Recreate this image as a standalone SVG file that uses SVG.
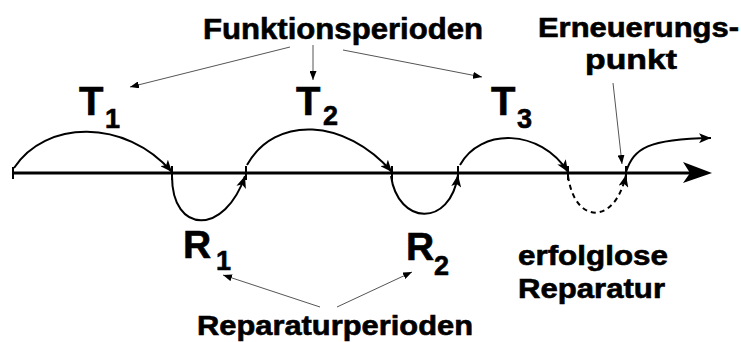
<svg xmlns="http://www.w3.org/2000/svg" width="741" height="342" viewBox="0 0 741 342">
<defs>
<style>
.lbl{font-family:"Liberation Sans",Arial,sans-serif;font-weight:bold;fill:#000;stroke:#000;stroke-width:0.6}
.arc{fill:none;stroke:#000;stroke-width:2}
.ptr{fill:none;stroke:#555;stroke-width:1}
.tick{stroke:#000;stroke-width:2}
</style>
<marker id="ah" markerUnits="userSpaceOnUse" markerWidth="12" markerHeight="10" refX="12" refY="5" orient="auto"><path d="M0,0 L12,5 L0,10 L3,5 z" fill="#000"/></marker>
<marker id="sh" markerUnits="userSpaceOnUse" markerWidth="9" markerHeight="7" refX="9" refY="3.5" orient="auto"><path d="M0,0 L9,3.5 L0,7 z" fill="#000"/></marker>
</defs>
<rect width="741" height="342" fill="#fff"/>
<g id="axis">
<line x1="13" y1="173" x2="695" y2="173" stroke="#000" stroke-width="3"/>
<path d="M683,162 L712,173 L683,183 L690,173 z" fill="#000"/>
<line class="tick" x1="13" y1="167" x2="13" y2="179"/>
<line class="tick" x1="172" y1="166" x2="172" y2="180"/>
<line class="tick" x1="246" y1="166" x2="246" y2="180"/>
<line class="tick" x1="392" y1="166" x2="392" y2="180"/>
<line class="tick" x1="458" y1="166" x2="458" y2="180"/>
<line class="tick" x1="568" y1="166" x2="568" y2="180"/>
<line class="tick" x1="626" y1="166" x2="626" y2="180"/>
</g>
<g id="connectors">
<path class="arc" d="M14,168 C45,120 125,118 172,172" marker-end="url(#ah)"/>
<path class="arc" d="M247,165 C275,115 345,118 392,172" marker-end="url(#ah)"/>
<path class="arc" d="M460,165 C480,128 540,128 568,172" marker-end="url(#ah)"/>
<path class="arc" d="M172,176 C172,235 225,235 245,176" marker-end="url(#ah)"/>
<path class="arc" d="M391,176 C398,225 450,228 458,175" marker-end="url(#ah)"/>
<path class="arc" d="M568,176 C575,225 615,225 626,175" stroke-dasharray="5,4" marker-end="url(#ah)"/>
<path class="arc" d="M626,172 C634,148 648,139 711,138" marker-end="url(#ah)"/>
<line class="ptr" x1="290" y1="47" x2="130" y2="87" marker-end="url(#sh)"/>
<line class="ptr" x1="313" y1="45" x2="313" y2="80" marker-end="url(#sh)"/>
<line class="ptr" x1="343" y1="50" x2="482" y2="77" marker-end="url(#sh)"/>
<line class="ptr" x1="613" y1="83" x2="622" y2="164" marker-end="url(#sh)"/>
<line class="ptr" x1="320" y1="307" x2="223" y2="275" marker-end="url(#sh)"/>
<line class="ptr" x1="337" y1="307" x2="412" y2="272" marker-end="url(#sh)"/>
</g>
<g id="funktionsperioden"><text class="lbl" x="203" y="39" font-size="29" textLength="280" lengthAdjust="spacingAndGlyphs">Funktionsperioden</text></g>
<g id="erneuerungspunkt">
<text class="lbl" x="538" y="37" font-size="27" textLength="201" lengthAdjust="spacingAndGlyphs">Erneuerungs-</text>
<text class="lbl" x="585" y="69" font-size="28" textLength="92" lengthAdjust="spacingAndGlyphs">punkt</text>
</g>
<g id="T1"><text class="lbl" x="79" y="115" font-size="40">T</text><text class="lbl" x="105" y="128" font-size="27">1</text></g>
<g id="T2"><text class="lbl" x="296" y="115" font-size="40">T</text><text class="lbl" x="323" y="125" font-size="27">2</text></g>
<g id="T3"><text class="lbl" x="491" y="115" font-size="40">T</text><text class="lbl" x="517" y="128" font-size="27">3</text></g>
<g id="R1"><text class="lbl" x="183" y="258" font-size="39">R</text><text class="lbl" x="216" y="270" font-size="27">1</text></g>
<g id="R2"><text class="lbl" x="406" y="260" font-size="39">R</text><text class="lbl" x="434" y="275" font-size="27">2</text></g>
<g id="erfolglose">
<text class="lbl" x="518" y="265" font-size="27" textLength="150" lengthAdjust="spacingAndGlyphs">erfolglose</text>
<text class="lbl" x="518" y="298" font-size="27" textLength="147" lengthAdjust="spacingAndGlyphs">Reparatur</text>
</g>
<g id="reparaturperioden"><text class="lbl" x="197" y="335" font-size="27" textLength="276" lengthAdjust="spacingAndGlyphs">Reparaturperioden</text></g>
</svg>
